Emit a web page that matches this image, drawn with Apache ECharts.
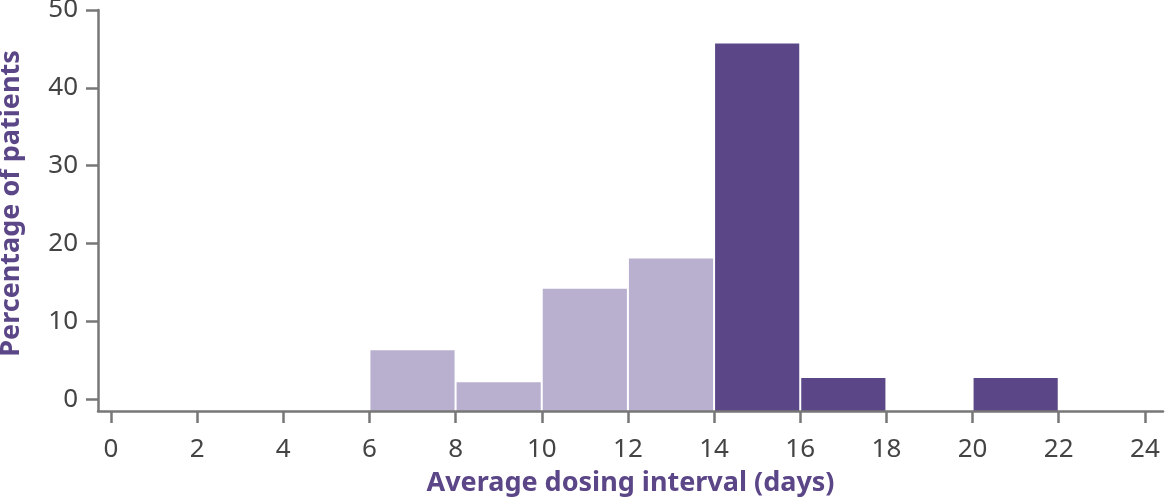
<!DOCTYPE html>
<html>
<head>
<meta charset="utf-8">
<script src="https://cdn.jsdelivr.net/npm/echarts@6.0.0/dist/echarts.min.js"></script>
<style>
  html, body { margin: 0; padding: 0; background: #fff; }
  #chart { width: 1165px; height: 498px; }
</style>
</head>
<body>
<div id="chart"></div>
<script>
// histogram bins (days) and share of patients (%)
var binStart = [6, 8, 10, 12, 14, 16, 20];
var binEnd = [8, 10, 12, 14, 16, 18, 22];
var percent = [6.3, 2.2, 14.2, 18.1, 45.7, 2.75, 2.75];
var group = [0, 0, 0, 0, 1, 1, 1]; // 0 = below 14 days, 1 = 14 days or more

var xTicks = [0, 2, 4, 6, 8, 10, 12, 14, 16, 18, 20, 22, 24];
var yTicks = [0, 10, 20, 30, 40, 50];

var groupColors = ['#b9b0cf', '#5b4687'];
var axisColor = '#777777';
var labelColor = '#444444';
var nameColor = '#5b4687';
var yMin = -1.5;

var chartDom = document.getElementById('chart');
var myChart = echarts.init(chartDom, null, { renderer: 'canvas' });
var option;

var seriesData = binStart.map(function (s, i) {
  return [s, binEnd[i], percent[i], group[i]];
});

option = {
  animation: false,
  textStyle: { fontFamily: 'Noto Sans' },
  grid: { left: 98, right: 2, top: 10, bottom: 87, containLabel: false, outerBoundsMode: 'none' },
  xAxis: {
    type: 'value',
    min: -0.3,
    max: 24.42,
    z: 10,
    name: 'Average dosing interval (days)',
    nameLocation: 'middle',
    nameGap: 59,
    nameTextStyle: { color: nameColor, fontSize: 27, fontWeight: 'bold', fontFamily: 'Noto Sans' },
    axisLine: { show: true, onZero: false, lineStyle: { color: axisColor, width: 2.5 } },
    axisTick: { show: true, length: 12, customValues: xTicks, lineStyle: { color: axisColor, width: 2.5 } },
    axisLabel: { customValues: xTicks, margin: 26, color: labelColor, fontSize: 26, fontFamily: 'Noto Sans' },
    splitLine: { show: false }
  },
  yAxis: {
    type: 'value',
    min: yMin,
    max: 50,
    z: 10,
    name: 'Percentage of patients',
    nameLocation: 'middle',
    nameGap: 73,
    nameTextStyle: { color: nameColor, fontSize: 27, fontWeight: 'bold', fontFamily: 'Noto Sans', padding: [0, 0, 0, 14] },
    axisLine: { show: true, onZero: false, lineStyle: { color: axisColor, width: 2.5 } },
    axisTick: { show: true, length: 12, customValues: yTicks, lineStyle: { color: axisColor, width: 2.5 } },
    axisLabel: { customValues: yTicks, margin: 20, color: labelColor, fontSize: 26, fontFamily: 'Noto Sans' },
    splitLine: { show: false }
  },
  series: [
    {
      type: 'custom',
      z: 1,
      data: seriesData,
      encode: { x: [0, 1], y: 2 },
      renderItem: function (params, api) {
        var topLeft = api.coord([api.value(0), api.value(2)]);
        var bottomRight = api.coord([api.value(1), yMin]);
        return {
          type: 'rect',
          shape: {
            x: topLeft[0] + 1,
            y: topLeft[1],
            width: bottomRight[0] - topLeft[0] - 2,
            height: bottomRight[1] - topLeft[1]
          },
          style: { fill: groupColors[api.value(3)] }
        };
      }
    }
  ]
};

option && myChart.setOption(option);
</script>
</body>
</html>
